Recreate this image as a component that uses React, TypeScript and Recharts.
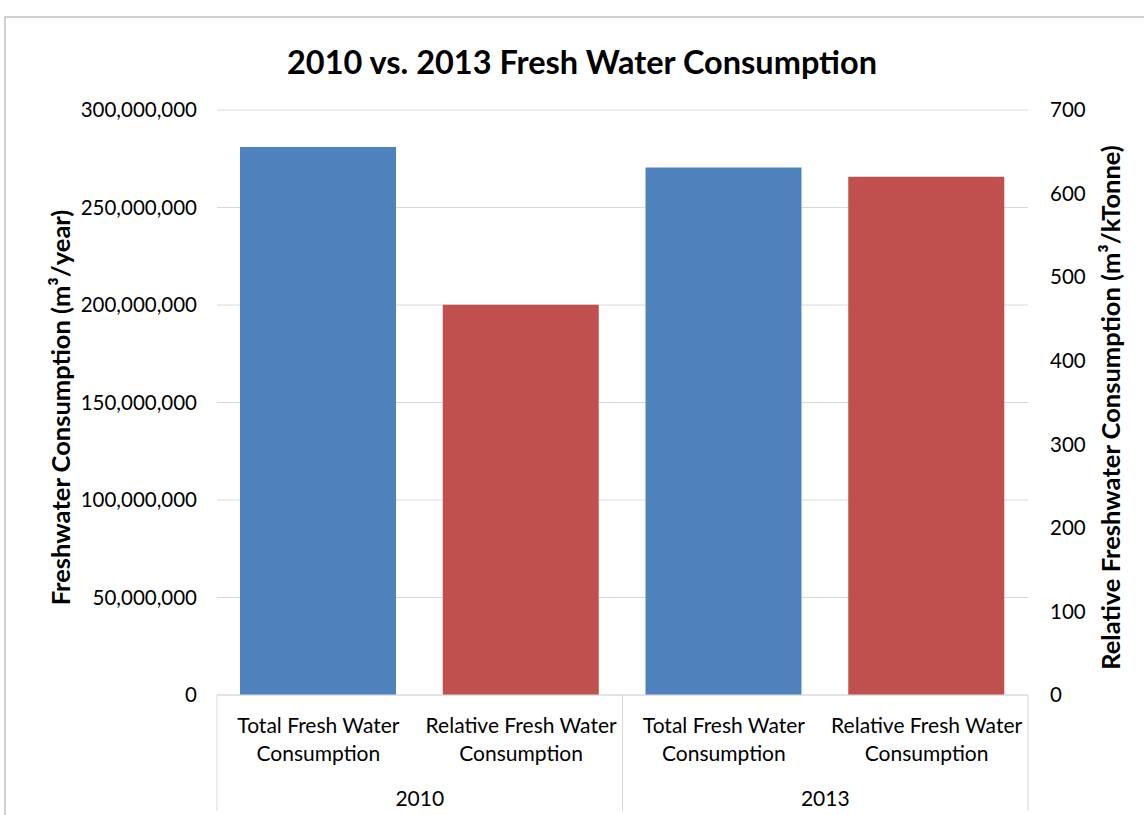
import React from 'react';
import { BarChart, Bar, XAxis, YAxis, CartesianGrid } from 'recharts';

const categories = [
    ['Total Fresh Water', 'Consumption'],
    ['Relative Fresh Water', 'Consumption'],
    ['Total Fresh Water', 'Consumption'],
    ['Relative Fresh Water', 'Consumption'],
];
const years = ['2010', '2010', '2013', '2013'];
const totalValues = [281000000, null, 270500000, null];
const relativeValues = [null, 467, null, 620];
const leftTicks = [0, 50000000, 100000000, 150000000, 200000000, 250000000, 300000000];
const rightTicks = [0, 100, 200, 300, 400, 500, 600, 700];

const data = categories.map((c, i) => ({
    id: 'c' + i,
    total: totalValues[i],
    relative: relativeValues[i],
}));

const W = 1144;
const H = 815;
const PLOT_LEFT = 217;
const PLOT_RIGHT = 1028;
const PLOT_TOP = 110;
const PLOT_BOTTOM = 695;
const BAND = (PLOT_RIGHT - PLOT_LEFT) / categories.length;
const FONT = 'Lato, "Open Sans", sans-serif';
const GRID = '#d9d9d9';

const CategoryTick: React.FC<any> = ({ x, y, index }) => {
    const lines = categories[index];
    const half = BAND / 2;
    const first = index === 0 || years[index - 1] !== years[index];
    const last = index === years.length - 1 || years[index + 1] !== years[index];
    return (
        <g>
            <text x={x} y={y + 29} textAnchor="middle" dominantBaseline="central" fill="#000" fontSize={21} fontFamily={FONT}>
                {lines[0]}
            </text>
            <text x={x} y={y + 57} textAnchor="middle" dominantBaseline="central" fill="#000" fontSize={21} fontFamily={FONT}>
                {lines[1]}
            </text>
            {first && index === 0 && <line x1={x - half} x2={x - half} y1={y} y2={y + 116} stroke={GRID} />}
            {last && <line x1={x + half} x2={x + half} y1={y} y2={y + 116} stroke={GRID} />}
            {first && (
                <text x={x + half} y={y + 102} textAnchor="middle" dominantBaseline="central" fill="#000" fontSize={21} fontFamily={FONT}>
                    {years[index]}
                </text>
            )}
        </g>
    );
};

const fmt = (v: number) => new Intl.NumberFormat('en-US').format(v);

export default function App() {
    return (
        <div style={{ position: 'absolute', left: 0, top: 0, width: W, height: H, overflow: 'hidden', background: '#fff' }}>
            <div style={{ position: 'absolute', left: 4, top: 16, width: W + 20, height: H + 20, border: '2px solid #cfcfcf', boxSizing: 'border-box' }} />
            <div style={{ position: 'absolute', left: 0, top: 0 }}>
                <BarChart
                    width={W}
                    height={H}
                    data={data}
                    margin={{ top: PLOT_TOP, right: 0, bottom: 0, left: 0 }}
                >
                    <CartesianGrid xAxisId="a" yAxisId="left" vertical={false} stroke={GRID} />
                    <XAxis
                        xAxisId="a"
                        dataKey="id"
                        height={H - PLOT_BOTTOM}
                        tickLine={false}
                        tickSize={0}
                        tickMargin={0}
                        axisLine={{ stroke: GRID }}
                        interval={0}
                        tick={<CategoryTick />}
                    />
                    <XAxis xAxisId="b" dataKey="id" hide />
                    <YAxis
                        yAxisId="left"
                        orientation="left"
                        width={PLOT_LEFT}
                        domain={[0, 300000000]}
                        ticks={leftTicks}
                        tickFormatter={fmt}
                        axisLine={false}
                        tickLine={false}
                        tickSize={0}
                        tickMargin={20}
                        tick={{ fill: '#000', fontSize: 20.5, fontFamily: FONT }}
                    />
                    <YAxis
                        yAxisId="right"
                        orientation="right"
                        width={W - PLOT_RIGHT}
                        domain={[0, 700]}
                        ticks={rightTicks}
                        axisLine={false}
                        tickLine={false}
                        tickSize={0}
                        tickMargin={22}
                        tick={{ fill: '#000', fontSize: 20.5, fontFamily: FONT }}
                    />
                    <Bar dataKey="total" xAxisId="a" yAxisId="left" fill="#4f81bd" barSize={156} isAnimationActive={false} />
                    <Bar dataKey="relative" xAxisId="b" yAxisId="right" fill="#c0504d" barSize={156} isAnimationActive={false} />
                </BarChart>
            </div>
            <svg width={W} height={H} style={{ position: 'absolute', left: 0, top: 0, pointerEvents: 'none' }}>
                <text x={582} y={61} textAnchor="middle" dominantBaseline="central" fontSize={32.5} fontWeight="bold" fontFamily={FONT} fill="#000">
                    2010 vs. 2013 Fresh Water Consumption
                </text>
                <text
                    transform={`translate(60, ${(PLOT_TOP + PLOT_BOTTOM) / 2 + 5}) rotate(-90)`}
                    textAnchor="middle"
                    dominantBaseline="central"
                    fontSize={25.5}
                    fontWeight="bold"
                    fontFamily={FONT}
                    fill="#000"
                >
                    Freshwater Consumption (m³/year)
                </text>
                <text
                    transform={`translate(1110, ${(PLOT_TOP + PLOT_BOTTOM) / 2 + 5}) rotate(-90)`}
                    textAnchor="middle"
                    dominantBaseline="central"
                    fontSize={25.5}
                    fontWeight="bold"
                    fontFamily={FONT}
                    fill="#000"
                >
                    Relative Freshwater Consumption (m³/kTonne)
                </text>
            </svg>
        </div>
    );
}
